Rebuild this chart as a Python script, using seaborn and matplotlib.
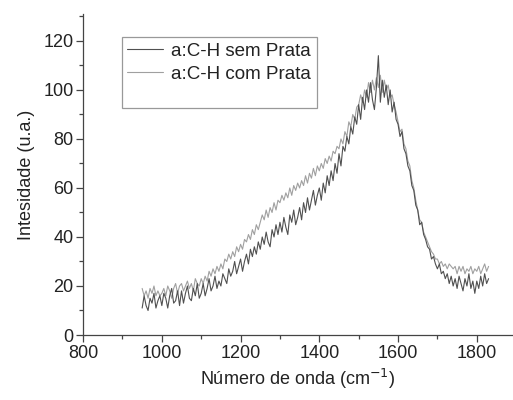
import numpy as np
import pandas as pd
import matplotlib
matplotlib.use('Agg')
import matplotlib.pyplot as plt
import seaborn as sns
from matplotlib.lines import Line2D
from matplotlib.ticker import MultipleLocator

# wavenumber grid (cm-1)
wavenumber = np.arange(950, 1835, 5)

# a:C-H sem Prata (darker line)
sem_prata = [
    11, 16, 12, 10, 15, 13, 17, 11, 14, 16,
    12, 17, 15, 11, 16, 19, 13, 14, 18, 12,
    18, 13, 17, 20, 15, 14, 19, 16, 21, 15,
    17, 21, 16, 19, 23, 18, 20, 24, 19, 22,
    20, 25, 23, 21, 27, 24, 26, 30, 25, 28,
    31, 26, 30, 33, 29, 35, 32, 36, 33, 38,
    35, 40, 37, 42, 38, 36, 43, 40, 45, 41,
    46, 42, 48, 44, 41, 49, 46, 51, 45, 48,
    52, 47, 54, 50, 56, 51, 55, 59, 53, 57,
    60, 55, 62, 58, 65, 61, 67, 63, 70, 66,
    74, 69, 77, 75, 81, 78, 85, 82, 89, 86,
    94, 88, 97, 92, 100, 95, 103, 96, 92, 101,
    114, 95, 104, 97, 102, 94, 100, 91, 95, 88,
    86, 81, 83, 76, 74, 69, 67, 61, 59, 53,
    51, 45, 46, 41, 39, 36, 35, 31, 32, 29,
    27, 29, 25, 26, 23, 25, 21, 24, 20, 23,
    19, 24, 21, 18, 23, 20, 25, 19, 22, 17,
    22, 19, 24, 20, 25, 21, 23,
]

# a:C-H com Prata (lighter line)
com_prata = [
    19, 16, 18, 15, 19, 17, 20, 16, 18, 16,
    17, 19, 16, 20, 18, 15, 19, 21, 17, 20,
    21, 18, 20, 22, 19, 21, 18, 23, 21, 20,
    23, 21, 24, 22, 26, 24, 27, 25, 28, 26,
    29, 27, 31, 30, 33, 31, 34, 32, 36, 34,
    37, 35, 39, 38, 41, 39, 43, 41, 45, 43,
    46, 49, 47, 51, 48, 52, 50, 54, 51, 55,
    54, 57, 55, 58, 56, 60, 57, 61, 59, 62,
    60, 63, 61, 65, 62, 66, 64, 68, 65, 69,
    67, 70, 68, 72, 70, 73, 71, 75, 74, 77,
    76, 80, 78, 83, 81, 87, 85, 90, 88, 93,
    94, 98, 95, 100, 97, 103, 99, 104, 100, 105,
    101, 106, 99, 104, 100, 102, 97, 98, 94, 91,
    87, 83, 84, 78, 76, 71, 69, 63, 60, 55,
    51, 47, 46, 42, 40, 38, 36, 34, 33, 31,
    31, 29, 30, 28, 29, 27, 29, 28, 27, 28,
    25, 28, 26, 28, 25, 27, 26, 28, 25, 27,
    26, 28, 25, 27, 29, 26, 28,
]

labels = ['a:C-H sem Prata', 'a:C-H com Prata']
colors = ['#505050', '#a0a0a0']

sns.set_style('ticks')
plt.rcParams['font.family'] = ['Liberation Sans', 'DejaVu Sans']

fig = plt.figure(figsize=(5.13, 4.0), dpi=100)
ax = fig.add_axes([0.162, 0.1625, 0.838, 0.8025])

# draw light one first so dark sits on top
sns.lineplot(x=wavenumber, y=com_prata, ax=ax, color=colors[1], lw=0.8)
sns.lineplot(x=wavenumber, y=sem_prata, ax=ax, color=colors[0], lw=0.8)

ax.set_xlim(800, 1892)
ax.set_ylim(0, 131)
ax.xaxis.set_major_locator(MultipleLocator(200))
ax.xaxis.set_minor_locator(MultipleLocator(100))
ax.yaxis.set_major_locator(MultipleLocator(20))
ax.yaxis.set_minor_locator(MultipleLocator(10))

for s in ['top', 'right']:
    ax.spines[s].set_visible(False)
for s in ['left', 'bottom']:
    ax.spines[s].set_color('#444444')
    ax.spines[s].set_linewidth(0.9)

ax.tick_params(which='major', direction='out', length=5, width=0.9,
               color='#444444', labelsize=13, labelcolor='#222222', pad=2)
ax.tick_params(which='minor', direction='out', length=3, width=0.9,
               color='#444444')

ax.set_xlabel('Número de onda (cm$^{-1}$)', fontsize=13, color='#222222', labelpad=4)
ax.set_ylabel('Intesidade (u.a.)', fontsize=13, color='#222222', labelpad=6)

# third (blank) entry leaves the empty space at the bottom of the box
handles = [Line2D([], [], color=colors[0], lw=0.8),
           Line2D([], [], color=colors[1], lw=0.8),
           Line2D([], [], color='none')]
leg = ax.legend(handles, labels + [' '], loc='upper left',
                bbox_to_anchor=(0.09, 0.928), fontsize=13.5,
                frameon=True, fancybox=False, framealpha=1,
                handlelength=1.9, handletextpad=0.45, borderpad=0.3,
                labelspacing=0.3, borderaxespad=0)
leg.get_frame().set_edgecolor('#999999')
leg.get_frame().set_linewidth(0.9)
for t in leg.get_texts():
    t.set_color('#222222')
leg.get_texts()[2].set_fontsize(4)

fig.savefig('out.png', dpi=100)
